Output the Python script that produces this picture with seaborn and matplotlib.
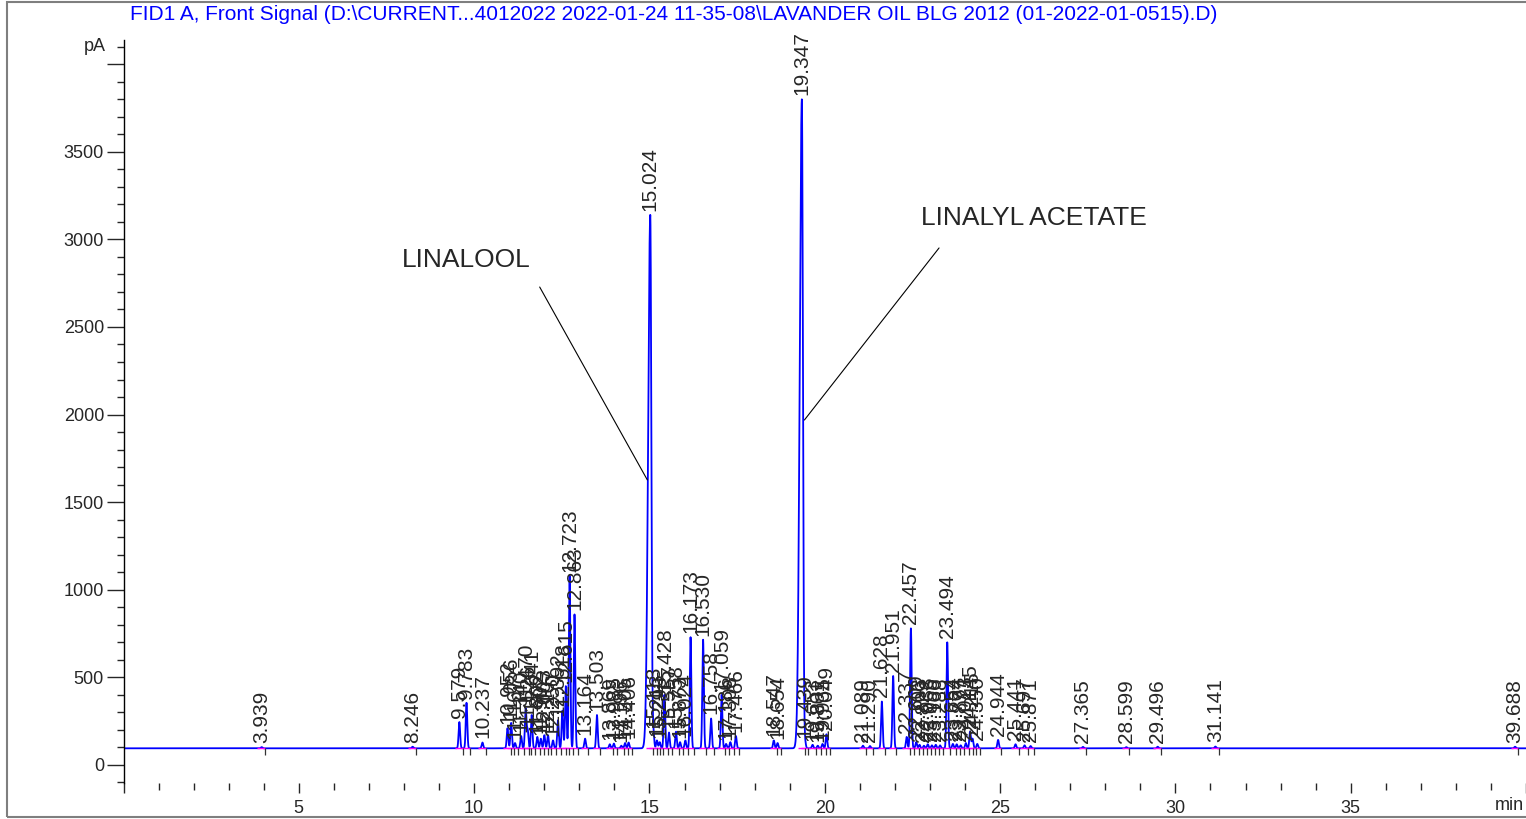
import numpy as np
import pandas as pd
import matplotlib
matplotlib.use("Agg")
import matplotlib.pyplot as plt
import seaborn as sns
from matplotlib.ticker import MultipleLocator, FuncFormatter

# peak table (retention time in min, apex in pA)
retention = [3.939, 8.246, 9.579, 9.783, 10.237, 10.952, 11.056, 11.167, 11.340, 11.470,
             11.526, 11.641, 11.802, 11.902, 12.003, 12.107, 12.250, 12.392, 12.518, 12.615,
             12.723, 12.863, 13.164, 13.503, 13.869, 13.985, 14.196, 14.305, 14.406, 15.024,
             15.113, 15.213, 15.293, 15.428, 15.557, 15.758, 15.873, 16.024, 16.173, 16.530,
             16.758, 17.059, 17.186, 17.308, 17.466, 18.547, 18.654, 19.347, 19.439, 19.653,
             19.801, 19.935, 20.049, 21.089, 21.290, 21.628, 21.951, 22.337, 22.457, 22.609,
             22.703, 22.829, 22.938, 23.055, 23.166, 23.288, 23.494, 23.654, 23.764, 23.877,
             24.023, 24.145, 24.215, 24.350, 24.944, 25.441, 25.697, 25.871, 27.365, 28.599,
             29.496, 31.141, 39.688]
apex = [102, 104, 245, 355, 128, 210, 240, 125, 165, 320,
        200, 285, 160, 150, 170, 170, 140, 255, 310, 450,
        1080, 860, 150, 285, 118, 122, 110, 125, 128, 3140,
        185, 140, 130, 400, 185, 190, 130, 140, 730, 715,
        265, 400, 120, 130, 165, 140, 125, 3800, 130, 115,
        110, 120, 175, 110, 108, 362, 508, 160, 780, 130,
        115, 110, 118, 112, 115, 112, 700, 120, 118, 112,
        125, 190, 150, 120, 143, 118, 112, 108, 103, 102,
        104, 105, 104]
baseline_pA = 95

title = ("FID1 A, Front Signal (D:\\CURRENT...4012022 2022-01-24 11-35-08\\"
         "LAVANDER OIL BLG 2012 (01-2022-01-0515).D)")

peaks = pd.DataFrame({"rt": retention, "apex": apex})

# build the trace from the peak table
t = np.linspace(0, 40, 20001)
signal = np.full_like(t, baseline_pA, dtype=float)
for rt, h in zip(peaks["rt"], peaks["apex"]):
    amp = h - baseline_pA
    big = amp > 2000
    s_left = 0.06 if big else 0.022
    s_right = 0.03 if big else 0.022
    s = np.where(t < rt, s_left, s_right)
    signal += amp * np.exp(-0.5 * ((t - rt) / s) ** 2)
trace = pd.DataFrame({"min": t, "pA": signal})

sns.set_style("white")
plt.rcParams['font.family'] = ['Liberation Sans', 'DejaVu Sans']

fig = plt.figure(figsize=(15.26, 8.19), dpi=100)
ax = fig.add_axes([123.5 / 1526, 36 / 819, 1 - 123.5 / 1526, 743 / 819])

sns.lineplot(data=trace, x="min", y="pA", ax=ax, color="#0000ff", lw=1.3,
             estimator=None, sort=False, zorder=2)

# integration baseline and peak markers
ax.hlines([baseline_pA] * len(peaks), peaks["rt"] - 0.12, peaks["rt"] + 0.09,
          color="#ff00ff", lw=1.0, zorder=3)
ax.vlines(peaks["rt"] + 0.09, 55, 98, color="#333333", lw=0.9, zorder=3)

for rt, h in zip(peaks["rt"], peaks["apex"]):
    ax.annotate(f"{rt:.3f}", xy=(rt, h), xytext=(0, 3), textcoords="offset points",
                rotation=90, ha="center", va="bottom", fontsize=15, zorder=4)

# compound annotations
ax.text(7.93, 2882, "LINALOOL", fontsize=19, ha="left", va="center")
ax.plot([11.87, 14.94], [2728, 1627], color="black", lw=0.8)
ax.text(22.75, 3122, "LINALYL ACETATE", fontsize=19, ha="left", va="center")
ax.plot([23.26, 19.42], [2951, 1969], color="black", lw=0.8)

ax.set_xlim(0, 40)
ax.set_ylim(-103, 4138)
ax.xaxis.set_major_locator(MultipleLocator(5))
ax.xaxis.set_minor_locator(MultipleLocator(1))
ax.yaxis.set_major_locator(MultipleLocator(500))
ax.yaxis.set_minor_locator(MultipleLocator(100))
ax.xaxis.set_major_formatter(FuncFormatter(lambda v, p: "" if v < 1 or v > 39 else f"{v:g}"))
ax.yaxis.set_major_formatter(FuncFormatter(lambda v, p: "" if v > 3600 else f"{v:g}"))
ax.tick_params(axis="x", which="major", length=7, width=1, pad=5, labelsize=13,
               direction="out", bottom=True)
ax.tick_params(axis="x", which="minor", length=5, width=1, direction="out", bottom=True)
ax.tick_params(axis="y", which="major", length=12, width=1, pad=2, labelsize=13,
               direction="out", left=True)
ax.tick_params(axis="y", which="minor", length=5, width=1, direction="out", left=True)
for side in ["top", "right", "bottom"]:
    ax.spines[side].set_visible(False)
ax.spines["left"].set_color("black")
ax.spines["left"].set_linewidth(1)
ax.set_xlabel("")
ax.set_ylabel("")

ax.annotate("pA", xy=(0, 4100), xytext=(-13, 0), textcoords="offset points",
            ha="right", va="center", fontsize=13, annotation_clip=False)
ax.annotate("min", xy=(39.1, 0), xycoords=("data", "axes fraction"),
            xytext=(0, -16), textcoords="offset points", ha="left", va="center",
            fontsize=13, annotation_clip=False)

fig.text(130 / 1526, 1 - 15 / 819, title, color="#0000ff", fontsize=15,
         ha="left", va="center")
fig.add_artist(plt.Rectangle((7 / 1526, 2 / 819), 1.2, 815 / 819,
                             transform=fig.transFigure, fill=False,
                             ec="#7f7f7f", lw=1.5))

fig.savefig("out.png", dpi=100)
